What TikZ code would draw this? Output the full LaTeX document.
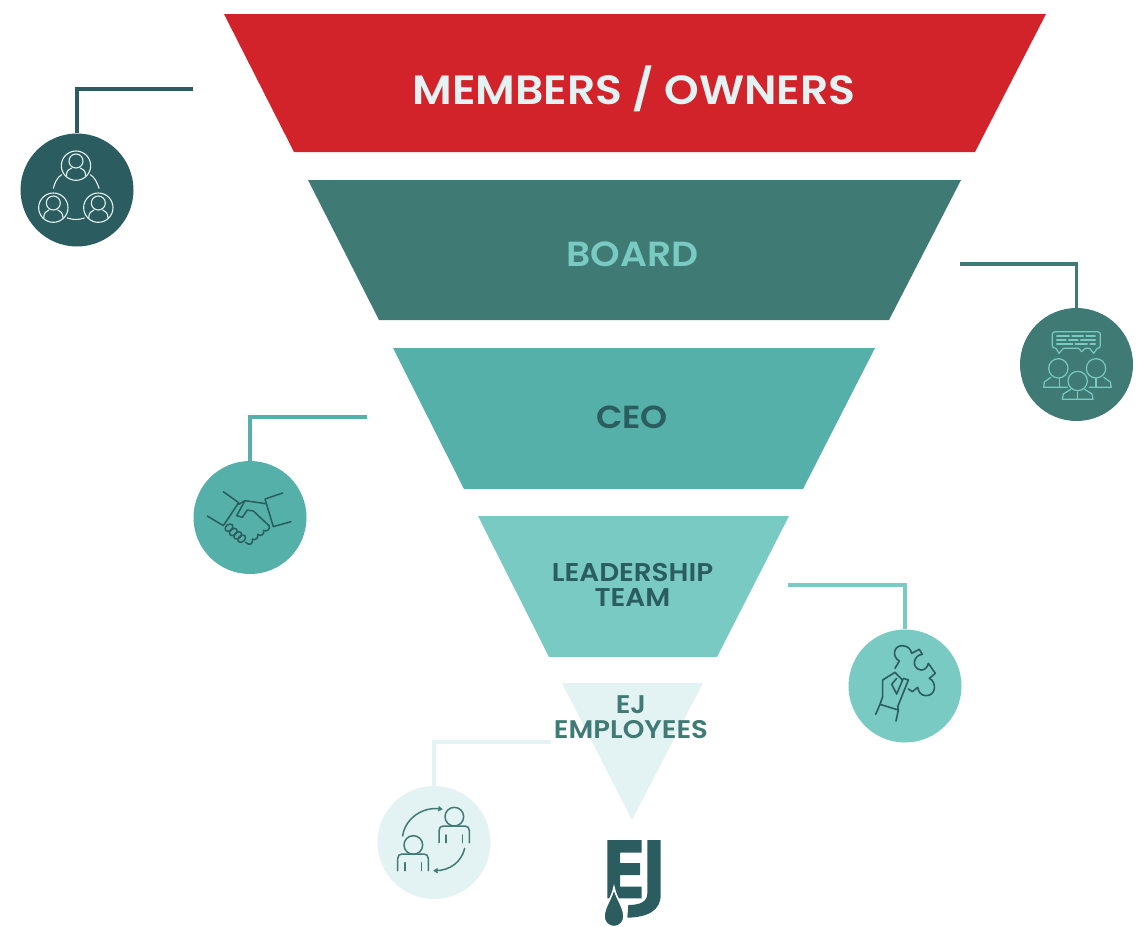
\documentclass[tikz,border=0pt]{standalone}
\usepackage{fontspec}
\setmainfont{Poppins}[UprightFont=* Medium,BoldFont=* SemiBold,BoldFeatures={FakeStretch=1.08}]
\usetikzlibrary{arrows.meta}
\definecolor{ejred}{HTML}{D2232A}
\definecolor{ejdark}{HTML}{2B5C5F}
\definecolor{ejmid}{HTML}{3F7A74}
\definecolor{ejteal}{HTML}{54B0A8}
\definecolor{ejlight}{HTML}{78CAC2}
\definecolor{ejpale}{HTML}{E3F2F2}
\tikzset{
  disc/.style={circle,minimum size=113bp,inner sep=0pt,fill=#1},
  link/.style={draw=#1,line width=3.2bp},
  lab/.style={inner sep=0pt,align=center,font=\bfseries},
  glyph/.style={line width=#1,line cap=round,line join=round},
  ringperson/.pic={
    \draw (0,0) circle (44);
    \draw (0,-14) circle (21);
    \draw (-29,32) .. controls (-29,14) and (-20,10) .. (-13,7);
    \draw (29,32) .. controls (29,14) and (20,10) .. (13,7);
  }
}
\begin{document}
\begin{tikzpicture}[x=1bp,y=-1bp]
\useasboundingbox (0,0) rectangle (1142,927);
% funnel
\fill[ejred]   (224,14)--(1046,14)--(975,152)--(294,152)--cycle;
\fill[ejmid]   (308,180)--(961,180)--(889,320)--(379,320)--cycle;
\fill[ejteal]  (393,348)--(875,348)--(803,489)--(464,489)--cycle;
\fill[ejlight] (478,516)--(789,516)--(717,657)--(549,657)--cycle;
\fill[ejpale]  (562,683)--(703,683)--(632,820)--cycle;
% labels
\node[lab,text=ejpale,font=\bfseries\fontsize{41}{48}\selectfont] (t1) at (634,89) {MEMBERS / OWNERS};
\node[lab,text=ejlight,font=\bfseries\fontsize{35}{40}\selectfont] (t2) at (632.5,254.5) {BOARD};
\node[lab,text=ejdark,font=\bfseries\fontsize{32}{37}\selectfont] (t3) at (632,417) {CEO};
\node[lab,text=ejdark,font=\bfseries\fontsize{25.8}{25}\selectfont] (t4) at (632.5,584.5) {LEADERSHIP\\TEAM};
\node[lab,text=ejmid,font=\bfseries\fontsize{25.6}{25}\selectfont] (t5) at (631,717.5) {EJ\\EMPLOYEES};
% discs
\node[disc=ejdark]  (i1) at (77,190) {};
\node[disc=ejmid]   (i2) at (1076.5,364.5) {};
\node[disc=ejteal]  (i3) at (250,517.5) {};
\node[disc=ejlight] (i4) at (905,686) {};
\node[disc=ejpale]  (i5) at (434,842.5) {};
% connectors
\coordinate (c1) at (193,89);
\coordinate (c2) at (960,264);
\coordinate (c3) at (367,417);
\coordinate (c4) at (788,585);
\coordinate (c5) at (551,742);
\draw[link=ejdark]  (c1) -| (i1.north);
\draw[link=ejmid]   (c2) -| (i2.north);
\draw[link=ejteal]  (c3) -| (i3.north);
\draw[link=ejlight] (c4) -| (i4.north);
\draw[link=ejpale]  (c5) -| (i5.north);
% icon 1
\begin{scope}[shift={(10,120)},scale=1/3,draw=ejpale,glyph=1.1bp]
  \pic[scale=1/3] at (198,137) {ringperson};
  \pic[scale=1/3] at (130,263) {ringperson};
  \pic[scale=1/3] at (265,263) {ringperson};
  \draw (130,205) .. controls (134,188) and (142,172) .. (155,164);
  \draw (267,205) .. controls (262,188) and (254,172) .. (241,164);
  \draw (172,294) .. controls (188,300) and (207,300) .. (223,294);
\end{scope}
% icon 2
\begin{scope}[shift={(1010,300)},scale=1/3,draw=ejlight,glyph=1.2bp]
  \draw (136,95) -- (262,95) .. controls (268,95) and (271,98) .. (271,104) -- (271,136)
    .. controls (271,142) and (268,145) .. (262,145) -- (262,145) -- (251,160) -- (239,145)
    -- (226,145) -- (215,155) -- (206,145) -- (160,145) -- (147,160) -- (138,145)
    .. controls (130,145) and (127,142) .. (127,136) -- (127,104) .. controls (127,98) and (130,95) .. (136,95) -- cycle;
  \foreach \a/\b/\y in {140/178/108,186/220/108,228/256/108,140/168/120,176/204/120,212/256/120,140/188/132,196/232/132,240/256/132}
    \draw (\a,\y) -- (\b,\y);
  \draw (145,205) circle (29);
  \draw (258,205) circle (29);
  \draw (203,243) circle (29);
  \draw (122,232) -- (103,246) -- (101,262) -- (172,262);
  \draw (281,232) -- (301,246) -- (304,262) -- (238,262);
  \draw (148,236) -- (148,262);
  \draw (258,236) -- (258,262);
  \draw (182,268) -- (160,282) -- (157,298) -- (249,298) -- (246,282) -- (224,268);
  \draw (203,276) -- (203,298);
\end{scope}
% icon 3
\begin{scope}[shift={(185,455)},scale=1/3,draw=ejdark,glyph=1.5bp]
  \draw (115,110) -- (161,143) -- (115,212) -- (67,183);
  \draw (293,114) -- (240,132) -- (265,215) -- (318,200);
  \draw (161,148) -- (180,137) -- (243,146);
  \draw (180,137) -- (155,182) -- (172,187) -- (187,165) -- (205,168) -- (252,212);
  \draw (252,212) .. controls (258,222) and (244,232) .. (236,226)
        .. controls (240,238) and (226,246) .. (218,238)
        .. controls (222,250) and (208,258) .. (202,252)
        .. controls (206,266) and (194,274) .. (182,262);
  \foreach \p/\q in {132/218,145/231,158/241,170/251}
    \draw[rotate around={40:(\p,\q)}] (\p,\q) ellipse (13 and 9.5);
\end{scope}
% icon 4
\begin{scope}[shift={(840,625)},scale=1/3,draw=ejdark,glyph=1.6bp]
  \draw (165,130) -- (178,108) .. controls (155,95) and (160,62) .. (187,62)
    .. controls (205,62) and (213,75) .. (215,85) -- (238,73) -- (247,88)
    .. controls (220,90) and (212,130) .. (243,135) .. controls (253,136) and (262,128) .. (265,115)
    -- (286,145) -- (268,160) .. controls (290,170) and (290,212) .. (258,212)
    .. controls (243,212) and (235,200) .. (233,187) -- (217,200) -- (205,192);
  \draw (107,268) -- (120,238) -- (175,255) -- (168,288);
  \draw (120,238) -- (128,215) -- (128,165) -- (165,142) -- (187,165);
  \draw (175,255) -- (173,245) -- (205,165) -- (190,160) -- (170,207) -- (155,178) -- (170,160);
\end{scope}
% icon 5
\begin{scope}[shift={(370,780)},scale=1/3,draw=ejmid,glyph=1.5bp]
  \draw (253,110) circle (28);
  \draw (207,188) -- (207,152) .. controls (207,143) and (212,138) .. (220,138) -- (285,138)
     .. controls (293,138) and (298,143) .. (298,152) -- (298,188);
  \draw (228,165) -- (228,188);
  \draw (277,165) -- (277,188);
  \draw (130,195) circle (28);
  \draw (83,272) -- (83,236) .. controls (83,227) and (88,222) .. (96,222) -- (162,222)
     .. controls (170,222) and (175,227) .. (175,236) -- (175,272);
  \draw (105,248) -- (105,272);
  \draw (155,248) -- (155,272);
  \draw[-{Straight Barb[length=3bp,width=4bp]}] (98,168) .. controls (105,115) and (160,78) .. (218,88);
  \draw[-{Straight Barb[length=3bp,width=4bp]}] (284,205) .. controls (275,245) and (240,272) .. (190,272);
\end{scope}
% logo
\begin{scope}[shift={(590,830)},scale=1/3]
  \fill[ejdark] (52,30) -- (155,30) -- (155,68) -- (90,68) -- (90,99) -- (150,99) -- (150,135)
     -- (90,135) -- (90,170) -- (155,170) -- (155,205) -- (52,205) -- cycle;
  \fill[ejdark] (172,30) -- (212,30) -- (212,195) .. controls (212,240) and (175,262) .. (112,263)
     -- (115,225) .. controls (150,225) and (172,215) .. (172,190) -- cycle;
  \path[fill=ejdark,draw=white,line width=1.6bp,line join=miter]
     (72,172) .. controls (78,205) and (102,230) .. (102,260)
     .. controls (102,276) and (90,290) .. (72,290)
     .. controls (54,290) and (42,276) .. (42,260)
     .. controls (42,230) and (66,205) .. (72,172) -- cycle;
\end{scope}
\end{tikzpicture}
\end{document}
